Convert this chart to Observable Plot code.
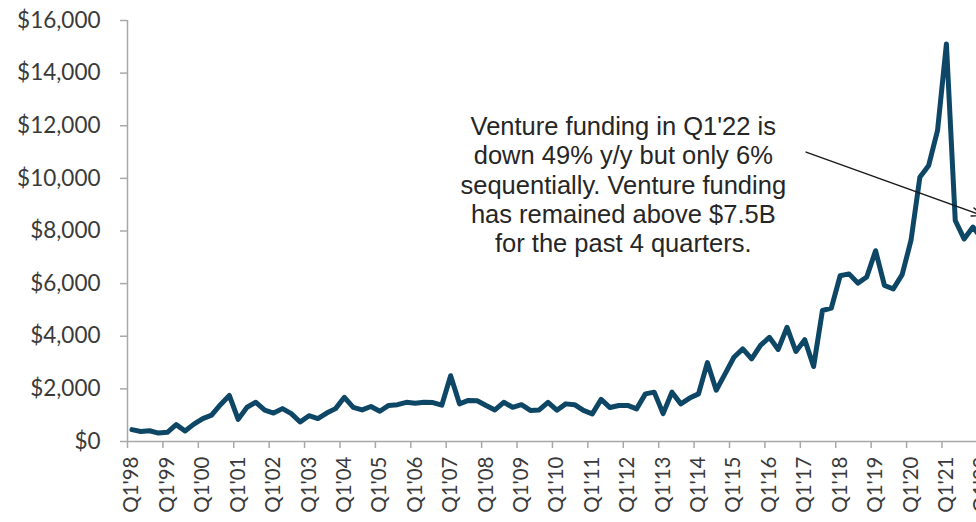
<!DOCTYPE html>
<html>
<head>
<meta charset="utf-8">
<script src="https://cdn.jsdelivr.net/npm/d3@7"></script>
<script src="https://cdn.jsdelivr.net/npm/@observablehq/plot@0.6"></script>
<style>
  html, body { margin: 0; padding: 0; background: #fff; overflow: hidden; }
  #chart { width: 976px; height: 522px; overflow: hidden; }
</style>
</head>
<body>
<div id="chart"></div>
<script>
// Quarterly venture funding ($M), Q1'98 .. Q1'22
const years = d3.range(1998, 2023);
const quarters = years.flatMap(y => [1, 2, 3, 4].map(q => `Q${q}'${String(y % 100).padStart(2, "0")}`)).slice(0, 97);
const funding = [
  450, 380, 410, 320,      // 1998
  350, 640, 400, 660,      // 1999
  870, 1000, 1400, 1750,   // 2000
  840, 1300, 1490, 1190,   // 2001
  1080, 1250, 1060, 740,   // 2002
  980, 870, 1080, 1250,    // 2003
  1680, 1300, 1200, 1330,  // 2004
  1150, 1370, 1400, 1490,  // 2005
  1450, 1490, 1480, 1380,  // 2006
  2500, 1430, 1560, 1550,  // 2007
  1370, 1200, 1490, 1300,  // 2008
  1400, 1180, 1200, 1490,  // 2009
  1190, 1430, 1400, 1180,  // 2010
  1050, 1600, 1290, 1370,  // 2011
  1370, 1240, 1810, 1875,  // 2012
  1060, 1875, 1430, 1650,  // 2013
  1810, 3000, 1950, 2570,  // 2014
  3200, 3520, 3140, 3650,  // 2015
  3960, 3500, 4340, 3420,  // 2016
  3870, 2850, 4980, 5070,  // 2017
  6300, 6370, 6020, 6250,  // 2018
  7250, 5930, 5800, 6340,  // 2019
  7640, 10040, 10490, 11820, // 2020
  15110, 8400, 7700, 8150, // 2021
  7700                     // 2022 Q1
];
const yTicks = [0, 2000, 4000, 6000, 8000, 10000, 12000, 14000, 16000];
const tickLabels = quarters.filter(q => q.startsWith("Q1"));
const annotation = "Venture funding in Q1'22 is\ndown 49% y/y but only 6%\nsequentially. Venture funding\nhas remained above $7.5B\nfor the past 4 quarters.";

const data = quarters.map((q, i) => ({q, i, v: funding[i]}));
const yearStarts = tickLabels.map((_, k) => k * 4);           // category boundaries
const yearCenters = tickLabels.map((_, k) => k * 4 + 0.5);    // category centers

const axisGray = "#a8a8a8";
const textGray = "#3a3a3a";

const chart = Plot.plot({
  width: 976,
  height: 522,
  marginLeft: 127,
  marginRight: 0,
  marginTop: 20,
  marginBottom: 81,
  style: {fontFamily: "Lato, 'Open Sans', sans-serif", fontSize: "20px", color: textGray, background: "#fff", overflow: "visible"},
  x: {type: "linear", domain: [0, 95.9], axis: null},
  y: {domain: [0, 16000], axis: null},
  marks: [
    Plot.axisY({
      ticks: yTicks,
      tickSize: 7,
      tickPadding: 20,
      tickFormat: d => "$" + d3.format(",")(d),
      stroke: axisGray,
      strokeWidth: 1.5,
      fill: textGray,
      fontSize: 22.5,
      label: null
    }),
    Plot.axisX({
      ticks: yearStarts,
      tickSize: 7,
      tickFormat: () => "",
      stroke: axisGray,
      strokeWidth: 1.5,
      label: null
    }),
    Plot.axisX({
      ticks: yearCenters,
      tickSize: 0,
      tickPadding: 15,
      tickRotate: -90,
      tickFormat: d => tickLabels[Math.round((d - 0.5) / 4)],
      fill: textGray,
      fontSize: 20.5,
      label: null
    }),
    Plot.ruleX([0], {stroke: axisGray, strokeWidth: 1.5}),
    Plot.ruleY([0], {stroke: axisGray, strokeWidth: 1.5}),
    Plot.line(data, {
      x: d => d.i + 0.5,
      y: "v",
      stroke: "#0e4766",
      strokeWidth: 5,
      strokeLinejoin: "round",
      strokeLinecap: "round",
      clip: true
    }),
    Plot.text([annotation], {
      x: 56,
      y: 12440,
      text: d => d,
      lineAnchor: "top",
      textAnchor: "middle",
      lineHeight: 1.15,
      fontSize: 25.5,
      fontFamily: "'Liberation Sans', Arial, sans-serif",
      fill: "#262626"
    }),
    Plot.arrow([{x1: 76.65, y1: 11000, x2: 96.55, y2: 8590}], {
      x1: "x1", y1: "y1", x2: "x2", y2: "y2",
      stroke: "#1a1a1a",
      strokeWidth: 1.4,
      headLength: 12,
      headAngle: 45
    })
  ]
});
document.getElementById("chart").append(chart);
</script>
</body>
</html>
